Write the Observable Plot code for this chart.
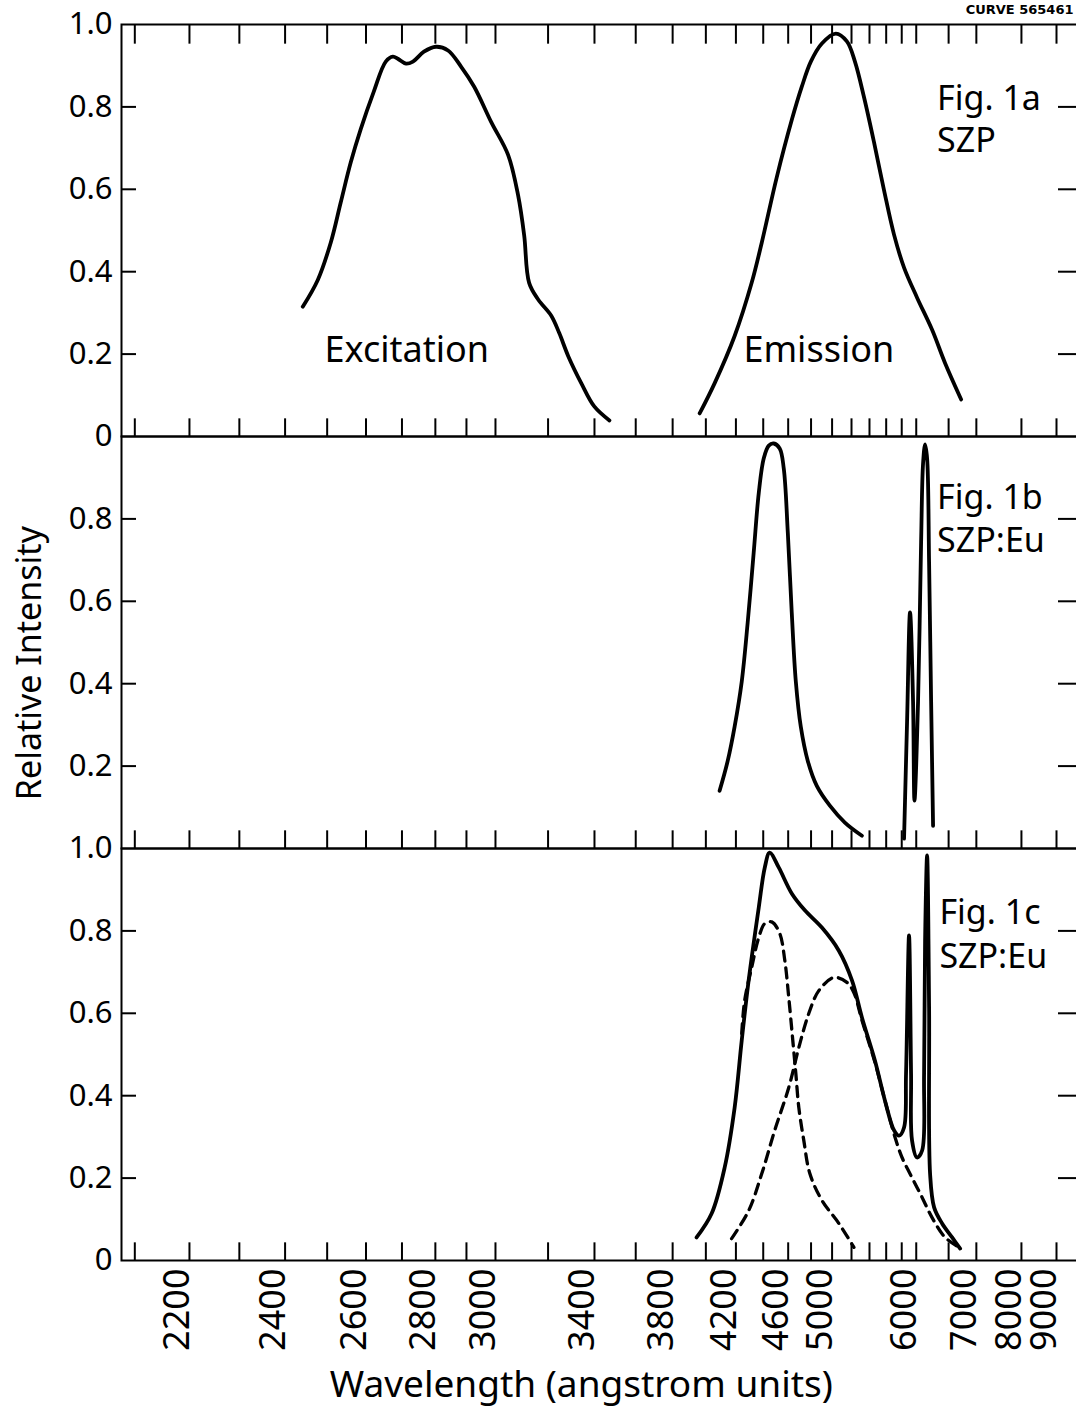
<!DOCTYPE html>
<html><head><meta charset="utf-8">
<script src="https://cdn.jsdelivr.net/npm/d3@7"></script>
<script src="https://cdn.jsdelivr.net/npm/@observablehq/plot@0.6"></script>
<style>
html,body{margin:0;padding:0;background:#fff;overflow:hidden;}
#chart svg{display:block;}
</style></head><body><div id="chart"></div>
<script>
// ---- data (wavelength in angstrom, relative intensity) ----
const panels = ["a", "b", "c"];

// Fig. 1a  SZP
const excitation = [[2441,0.315],[2477,0.380],[2509,0.471],[2534,0.568],[2560,0.666],[2586,0.746],[2621,0.837],[2654,0.910],[2674,0.922],[2688,0.917],[2712,0.905],[2732,0.910],[2765,0.934],[2802,0.946],[2840,0.937],[2882,0.898],[2926,0.849],[2985,0.763],[3046,0.683],[3083,0.585],[3106,0.488],[3125,0.373],[3161,0.332],[3213,0.293],[3246,0.251],[3284,0.195],[3341,0.129],[3399,0.073],[3470,0.039]];
const emission = [[3961,0.056],[4056,0.129],[4191,0.244],[4313,0.373],[4389,0.471],[4506,0.629],[4630,0.768],[4717,0.849],[4798,0.910],[4901,0.954],[5038,0.978],[5151,0.959],[5237,0.910],[5337,0.824],[5452,0.715],[5573,0.598],[5699,0.490],[5831,0.410],[6012,0.337],[6235,0.259],[6442,0.178],[6717,0.090]];

// Fig. 1b  SZP:Eu
const bBand = [[4089,0.140],[4143,0.212],[4191,0.296],[4241,0.405],[4284,0.549],[4328,0.718],[4366,0.863],[4404,0.947],[4443,0.978],[4482,0.983],[4530,0.971],[4563,0.923],[4597,0.766],[4630,0.573],[4665,0.405],[4708,0.296],[4771,0.212],[4853,0.152],[4978,0.104],[5130,0.063],[5314,0.031]];
const bLines = [[5831,0.024],[5872,0.308],[5913,0.573],[5955,0.357],[5975,0.116],[6026,0.357],[6070,0.742],[6099,0.935],[6129,0.981],[6159,0.947],[6189,0.694],[6220,0.357],[6250,0.055]];

// Fig. 1c  SZP:Eu
const cTotal = [[3942,0.056],[4037,0.114],[4123,0.226],[4191,0.371],[4241,0.534],[4291,0.680],[4366,0.857],[4412,0.954],[4450,0.990],[4522,0.954],[4630,0.891],[4744,0.850],[4901,0.808],[5068,0.752],[5205,0.680],[5314,0.590],[5464,0.485],[5585,0.388],[5699,0.316],[5764,0.303],[5831,0.323],[5858,0.454],[5899,0.789],[5927,0.454],[5941,0.291],[6012,0.250],[6085,0.267],[6114,0.454],[6129,0.777],[6159,0.983],[6189,0.614],[6204,0.211],[6266,0.129],[6393,0.090],[6560,0.056],[6699,0.029]];
const cDashA = [[4241,0.551],[4262,0.631],[4313,0.711],[4366,0.784],[4412,0.818],[4466,0.822],[4530,0.794],[4572,0.728],[4605,0.638],[4639,0.534],[4665,0.454],[4691,0.371],[4735,0.291],[4789,0.211],[4901,0.146],[5068,0.090],[5226,0.032]];
const cDashB = [[4170,0.053],[4291,0.121],[4389,0.211],[4490,0.316],[4605,0.420],[4691,0.517],[4780,0.600],[4872,0.655],[5018,0.687],[5151,0.675],[5226,0.650],[5314,0.583],[5464,0.481],[5585,0.388],[5712,0.299],[5804,0.250],[5941,0.201],[6085,0.153],[6235,0.104],[6442,0.056],[6681,0.032]];

// axis ticks and labels
const xTickLabels = [2200, 2400, 2600, 2800, 3000, 3400, 3800, 4200, 4600, 5000, 6000, 7000, 8000, 9000];
const xTicks = [2100, 2200, 2300, 2400, 2500, 2600, 2700, 2800, 2900, 3000, 3200, 3400, 3600, 3800, 4000, 4200, 4400, 4600, 4800, 5000, 5200, 5400, 5600, 5800, 6000, 6500, 7000, 8000, 9000];
const xDomain = [2077, 9691];
const yMinorTicks = [0.2, 0.4, 0.6, 0.8];
const yLabelsA = [0, 0.2, 0.4, 0.6, 0.8, 1.0];
const yLabelsB = [0.2, 0.4, 0.6, 0.8];
const yLabelsC = [0, 0.2, 0.4, 0.6, 0.8, 1.0];

// text annotations
const figLabels = [
  {panel: "a", text: "Fig. 1a", wl: 6313, v: 0.82},
  {panel: "a", text: "SZP", wl: 6313, v: 0.716},
  {panel: "b", text: "Fig. 1b", wl: 6313, v: 0.85},
  {panel: "b", text: "SZP:Eu", wl: 6313, v: 0.746},
  {panel: "c", text: "Fig. 1c", wl: 6350, v: 0.844},
  {panel: "c", text: "SZP:Eu", wl: 6350, v: 0.737}
];
const curveLabels = [
  {panel: "a", text: "Excitation", wl: 2714, v: 0.21},
  {panel: "a", text: "Emission", wl: 4872, v: 0.21}
];
const corner = [{panel: "a", text: "CURVE 565461", wl: xDomain[1], v: 1.0}];
const xTitle = [{panel: "c", text: "Wavelength (angstrom units)", wl: 3341}];
const yTitle = [{panel: "b", text: "Relative Intensity", v: 0.45}];

// ---- build tables ----
const series = [
  {panel: "a", name: "excitation", pts: excitation, dashed: false},
  {panel: "a", name: "emission", pts: emission, dashed: false},
  {panel: "b", name: "bBand", pts: bBand, dashed: false},
  {panel: "b", name: "bLines", pts: bLines, dashed: false},
  {panel: "c", name: "cTotal", pts: cTotal, dashed: false},
  {panel: "c", name: "cDashA", pts: cDashA, dashed: true},
  {panel: "c", name: "cDashB", pts: cDashB, dashed: true}
];
const rows = series.flatMap(s => s.pts.map(([wl, v]) => ({panel: s.panel, name: s.name, dashed: s.dashed, wl, v})));
const yLabelRows = [
  ...yLabelsA.map(v => ({panel: "a", v})),
  ...yLabelsB.map(v => ({panel: "b", v})),
  ...yLabelsC.map(v => ({panel: "c", v}))
];

const W = 1076, H = 1417, ML = 121, MR = 0, MT = 23, MB = 157;
const facetH = (H - MT - MB) / panels.length;
const plotW = W - ML - MR;
const font = "'Noto Sans', 'DejaVu Sans', sans-serif";

const chart = Plot.plot({
  width: W, height: H,
  marginLeft: ML, marginRight: MR, marginTop: MT, marginBottom: MB,
  style: {fontFamily: font, background: "white", color: "black"},
  x: {type: "pow", exponent: -1, domain: xDomain, axis: null},
  y: {domain: [0, 1], axis: null},
  fy: {domain: panels, padding: 0, axis: null},
  marks: [
    Plot.frame({stroke: "black", strokeWidth: 2, insetRight: -4}),
    // inward x ticks at bottom of every panel
    Plot.tickX(xTicks, {x: d => d, insetTop: facetH - 18, stroke: "black", strokeWidth: 2}),
    // downward ticks at top of first panel
    Plot.tickX(xTicks, {x: d => d, fy: () => "a", insetBottom: facetH - 20, stroke: "black", strokeWidth: 2}),
    // left and right y ticks
    Plot.tickY(yMinorTicks, {y: d => d, insetRight: plotW - 15, stroke: "black", strokeWidth: 2}),
    Plot.tickY(yMinorTicks, {y: d => d, insetLeft: plotW - 18, stroke: "black", strokeWidth: 2}),
    // curves
    Plot.line(rows.filter(r => !r.dashed), {x: "wl", y: "v", z: "name", fy: "panel", stroke: "black", strokeWidth: 3.8, curve: "catmull-rom", strokeLinecap: "round", strokeLinejoin: "round"}),
    Plot.line(rows.filter(r => r.dashed), {x: "wl", y: "v", z: "name", fy: "panel", stroke: "black", strokeWidth: 3.3, curve: "catmull-rom", strokeDasharray: "10,7"}),
    // y tick labels
    Plot.text(yLabelRows, {y: "v", fy: "panel", frameAnchor: "left", dx: -9, textAnchor: "end", text: d => d.v === 0 ? "0" : d.v.toFixed(1), fontSize: 31}),
    // x tick labels (bottom panel)
    Plot.text(xTickLabels, {x: d => d, fy: () => "c", frameAnchor: "bottom", dy: 8, rotate: -90, textAnchor: "end", text: d => String(d), fontSize: 36}),
    // annotations
    Plot.text(figLabels, {x: "wl", y: "v", fy: "panel", text: "text", textAnchor: "start", fontSize: 34}),
    Plot.text(curveLabels, {x: "wl", y: "v", fy: "panel", text: "text", textAnchor: "middle", fontSize: 36}),
    Plot.text(corner, {x: "wl", y: "v", fy: "panel", text: "text", textAnchor: "end", dx: -3, dy: -15, fontSize: 13, fontWeight: "bold", fontFamily: "'DejaVu Sans', sans-serif"}),
    Plot.text(xTitle, {x: "wl", fy: "panel", frameAnchor: "bottom", dy: 136, text: "text", textAnchor: "middle", fontSize: 37}),
    Plot.text(yTitle, {y: "v", fy: "panel", frameAnchor: "left", dx: -91, rotate: -90, text: "text", textAnchor: "middle", fontSize: 34})
  ]
});
document.getElementById("chart").append(chart);
</script>
</body></html>
